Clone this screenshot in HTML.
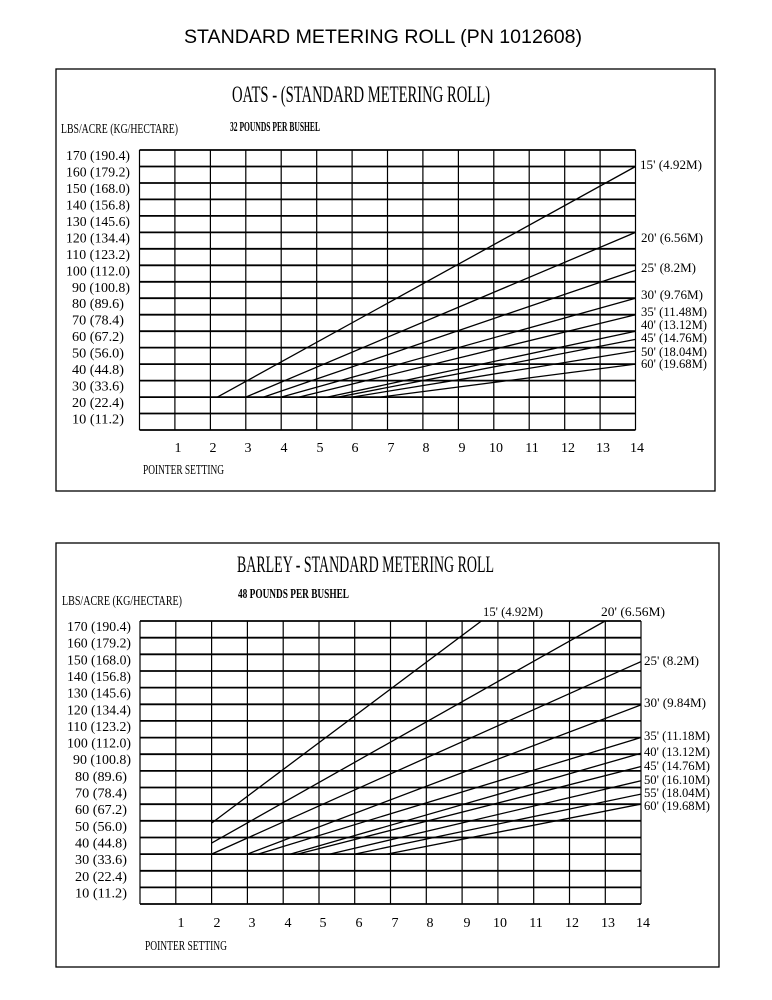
<!DOCTYPE html>
<html><head><meta charset="utf-8"><style>
html,body{margin:0;padding:0;background:#fff;}
svg{display:block;}
text{font-family:"Liberation Serif","DejaVu Serif",serif;fill:#000;}
.t{font-family:"Liberation Sans",Arial,sans-serif;}
</style></head><body>
<svg width="772" height="1000" viewBox="0 0 772 1000" xmlns="http://www.w3.org/2000/svg">
<rect width="772" height="1000" fill="#fff"/>
<text class="t" x="383" y="43" font-size="19" text-anchor="middle" textLength="398" lengthAdjust="spacingAndGlyphs">STANDARD METERING ROLL  (PN  1012608)</text>

<!-- TOP CHART -->
<rect x="56" y="69" width="659" height="422" fill="none" stroke="#000" stroke-width="1.3"/>
<text x="232" y="102" font-size="23" textLength="258" lengthAdjust="spacingAndGlyphs">OATS - (STANDARD METERING ROLL)</text>
<text x="230" y="131" font-size="14" font-weight="bold" textLength="90" lengthAdjust="spacingAndGlyphs">32 POUNDS PER BUSHEL</text>
<text x="61" y="133" font-size="14" textLength="117" lengthAdjust="spacingAndGlyphs">LBS/ACRE (KG/HECTARE)</text>
<g stroke="#000" stroke-width="1.2" fill="none">
<path d="M139.5 150V430M174.9 150V430M210.4 150V430M245.8 150V430M281.2 150V430M316.7 150V430M352.1 150V430M387.5 150V430M422.9 150V430M458.4 150V430M493.8 150V430M529.2 150V430M564.7 150V430M600.1 150V430M635.5 150V430"/>
</g>
<g stroke="#000" stroke-width="1.8" fill="none">
<path d="M139.5 150H635.5M139.5 166.5H635.5M139.5 183H635.5M139.5 199.4H635.5M139.5 215.9H635.5M139.5 232.4H635.5M139.5 248.8H635.5M139.5 265.3H635.5M139.5 281.8H635.5M139.5 298.2H635.5M139.5 314.7H635.5M139.5 331.2H635.5M139.5 347.6H635.5M139.5 364.1H635.5M139.5 380.6H635.5M139.5 397.1H635.5M139.5 413.5H635.5M139.5 430H635.5"/>
</g>
<g stroke="#000" stroke-width="1.3" fill="none">
<path d="M217.4 397.1L635.5 166.5M245.8 397.1L635.5 232.4M263.5 397.1L635.5 270.2M281.2 397.1L635.5 298.2M298.9 397.1L635.5 314.7M327.3 397.1L635.5 331.2M337.9 397.1L635.5 339.4M352.1 397.1L635.5 351M380.4 397.1L635.5 364.1"/>
</g>
<g font-size="14" text-anchor="end">
<text x="130" y="160" textLength="64" lengthAdjust="spacingAndGlyphs">170 (190.4)</text>
<text x="130" y="176.5" textLength="64" lengthAdjust="spacingAndGlyphs">160 (179.2)</text>
<text x="130" y="193" textLength="64" lengthAdjust="spacingAndGlyphs">150 (168.0)</text>
<text x="130" y="209.4" textLength="64" lengthAdjust="spacingAndGlyphs">140 (156.8)</text>
<text x="130" y="225.9" textLength="64" lengthAdjust="spacingAndGlyphs">130 (145.6)</text>
<text x="130" y="242.4" textLength="64" lengthAdjust="spacingAndGlyphs">120 (134.4)</text>
<text x="130" y="258.8" textLength="64" lengthAdjust="spacingAndGlyphs">110 (123.2)</text>
<text x="130" y="275.3" textLength="64" lengthAdjust="spacingAndGlyphs">100 (112.0)</text>
<text x="130" y="291.8" textLength="58" lengthAdjust="spacingAndGlyphs">90 (100.8)</text>
<text x="124" y="308.2" textLength="52" lengthAdjust="spacingAndGlyphs">80 (89.6)</text>
<text x="124" y="324.7" textLength="52" lengthAdjust="spacingAndGlyphs">70 (78.4)</text>
<text x="124" y="341.2" textLength="52" lengthAdjust="spacingAndGlyphs">60 (67.2)</text>
<text x="124" y="357.6" textLength="52" lengthAdjust="spacingAndGlyphs">50 (56.0)</text>
<text x="124" y="374.1" textLength="52" lengthAdjust="spacingAndGlyphs">40 (44.8)</text>
<text x="124" y="390.6" textLength="52" lengthAdjust="spacingAndGlyphs">30 (33.6)</text>
<text x="124" y="407.1" textLength="52" lengthAdjust="spacingAndGlyphs">20 (22.4)</text>
<text x="124" y="423.5" textLength="52" lengthAdjust="spacingAndGlyphs">10 (11.2)</text>
</g>
<g font-size="14" text-anchor="middle">
<text x="178" y="452">1</text><text x="213" y="452">2</text><text x="248" y="452">3</text><text x="284" y="452">4</text><text x="320" y="452">5</text><text x="355" y="452">6</text><text x="391" y="452">7</text><text x="426" y="452">8</text><text x="462" y="452">9</text><text x="496" y="452">10</text><text x="532" y="452">11</text><text x="568" y="452">12</text><text x="603" y="452">13</text><text x="637" y="452">14</text>
</g>
<text x="143" y="474" font-size="14" textLength="81" lengthAdjust="spacingAndGlyphs">POINTER SETTING</text>
<g font-size="13">
<text x="640" y="169" textLength="62" lengthAdjust="spacingAndGlyphs">15' (4.92M)</text>
<text x="641" y="242" textLength="62" lengthAdjust="spacingAndGlyphs">20' (6.56M)</text>
<text x="641" y="272" textLength="55" lengthAdjust="spacingAndGlyphs">25' (8.2M)</text>
<text x="641" y="299" textLength="62" lengthAdjust="spacingAndGlyphs">30' (9.76M)</text>
<text x="641" y="316" textLength="66" lengthAdjust="spacingAndGlyphs">35' (11.48M)</text>
<text x="641" y="329" textLength="66" lengthAdjust="spacingAndGlyphs">40' (13.12M)</text>
<text x="641" y="342" textLength="66" lengthAdjust="spacingAndGlyphs">45' (14.76M)</text>
<text x="641" y="356" textLength="66" lengthAdjust="spacingAndGlyphs">50' (18.04M)</text>
<text x="641" y="368" textLength="66" lengthAdjust="spacingAndGlyphs">60' (19.68M)</text>
</g>

<!-- BOTTOM CHART -->
<rect x="56" y="543" width="663" height="424" fill="none" stroke="#000" stroke-width="1.3"/>
<text x="237" y="572" font-size="23" textLength="257" lengthAdjust="spacingAndGlyphs">BARLEY - STANDARD METERING ROLL</text>
<text x="238" y="598" font-size="14" font-weight="bold" textLength="111" lengthAdjust="spacingAndGlyphs">48 POUNDS PER BUSHEL</text>
<text x="62" y="605" font-size="14" textLength="120" lengthAdjust="spacingAndGlyphs">LBS/ACRE (KG/HECTARE)</text>
<g stroke="#000" stroke-width="1.2" fill="none">
<path d="M140 621V904M175.8 621V904M211.6 621V904M247.4 621V904M283.2 621V904M319 621V904M354.7 621V904M390.5 621V904M426.3 621V904M462.1 621V904M497.9 621V904M533.7 621V904M569.5 621V904M605.3 621V904M641 621V904"/>
</g>
<g stroke="#000" stroke-width="1.8" fill="none">
<path d="M140 621H641M140 637.7H641M140 654.3H641M140 671H641M140 687.6H641M140 704.3H641M140 720.9H641M140 737.6H641M140 754.2H641M140 770.9H641M140 787.5H641M140 804.2H641M140 820.8H641M140 837.5H641M140 854.1H641M140 870.8H641M140 887.4H641M140 904H641"/>
</g>
<g stroke="#000" stroke-width="1.3" fill="none">
<path d="M211.6 823.1L481.4 621M211.6 843.1L605.1 621M211.6 854.1L641 661.6M247.4 854.1L641 704.9M258.1 854.1L641 737.5M290.3 854.1L641 753.2M297.5 854.1L641 766.5M329.7 854.1L641 780.8M354.7 854.1L641 794.1M387 854.1L641 804.1"/>
</g>
<g font-size="14" text-anchor="end">
<text x="131" y="631" textLength="64" lengthAdjust="spacingAndGlyphs">170 (190.4)</text>
<text x="131" y="647.7" textLength="64" lengthAdjust="spacingAndGlyphs">160 (179.2)</text>
<text x="131" y="664.3" textLength="64" lengthAdjust="spacingAndGlyphs">150 (168.0)</text>
<text x="131" y="681" textLength="64" lengthAdjust="spacingAndGlyphs">140 (156.8)</text>
<text x="131" y="697.6" textLength="64" lengthAdjust="spacingAndGlyphs">130 (145.6)</text>
<text x="131" y="714.3" textLength="64" lengthAdjust="spacingAndGlyphs">120 (134.4)</text>
<text x="131" y="730.9" textLength="64" lengthAdjust="spacingAndGlyphs">110 (123.2)</text>
<text x="131" y="747.6" textLength="64" lengthAdjust="spacingAndGlyphs">100 (112.0)</text>
<text x="131" y="764.2" textLength="58" lengthAdjust="spacingAndGlyphs">90 (100.8)</text>
<text x="127" y="780.9" textLength="52" lengthAdjust="spacingAndGlyphs">80 (89.6)</text>
<text x="127" y="797.5" textLength="52" lengthAdjust="spacingAndGlyphs">70 (78.4)</text>
<text x="127" y="814.2" textLength="52" lengthAdjust="spacingAndGlyphs">60 (67.2)</text>
<text x="127" y="830.8" textLength="52" lengthAdjust="spacingAndGlyphs">50 (56.0)</text>
<text x="127" y="847.5" textLength="52" lengthAdjust="spacingAndGlyphs">40 (44.8)</text>
<text x="127" y="864.1" textLength="52" lengthAdjust="spacingAndGlyphs">30 (33.6)</text>
<text x="127" y="880.8" textLength="52" lengthAdjust="spacingAndGlyphs">20 (22.4)</text>
<text x="127" y="897.4" textLength="52" lengthAdjust="spacingAndGlyphs">10 (11.2)</text>
</g>
<g font-size="14" text-anchor="middle">
<text x="181" y="927">1</text><text x="217" y="927">2</text><text x="252" y="927">3</text><text x="288" y="927">4</text><text x="323" y="927">5</text><text x="359" y="927">6</text><text x="395" y="927">7</text><text x="430" y="927">8</text><text x="467" y="927">9</text><text x="500" y="927">10</text><text x="536" y="927">11</text><text x="572" y="927">12</text><text x="608" y="927">13</text><text x="643" y="927">14</text>
</g>
<text x="145" y="950" font-size="14" textLength="82" lengthAdjust="spacingAndGlyphs">POINTER SETTING</text>
<g font-size="13">
<text x="483" y="616" textLength="60" lengthAdjust="spacingAndGlyphs">15' (4.92M)</text>
<text x="601" y="616" textLength="64" lengthAdjust="spacingAndGlyphs">20' (6.56M)</text>
<text x="644" y="665" textLength="55" lengthAdjust="spacingAndGlyphs">25' (8.2M)</text>
<text x="644" y="707" textLength="62" lengthAdjust="spacingAndGlyphs">30' (9.84M)</text>
<text x="644" y="740" textLength="66" lengthAdjust="spacingAndGlyphs">35' (11.18M)</text>
<text x="644" y="756" textLength="66" lengthAdjust="spacingAndGlyphs">40' (13.12M)</text>
<text x="644" y="770" textLength="66" lengthAdjust="spacingAndGlyphs">45' (14.76M)</text>
<text x="644" y="784" textLength="66" lengthAdjust="spacingAndGlyphs">50' (16.10M)</text>
<text x="644" y="797" textLength="66" lengthAdjust="spacingAndGlyphs">55' (18.04M)</text>
<text x="644" y="810" textLength="66" lengthAdjust="spacingAndGlyphs">60' (19.68M)</text>
</g>
</svg>
</body></html>
